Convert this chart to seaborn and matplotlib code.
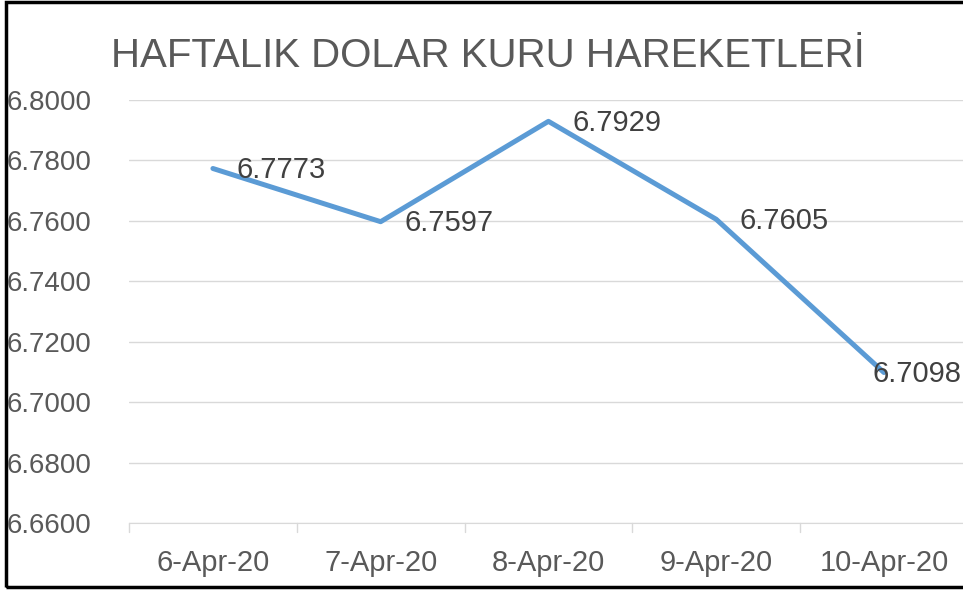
'''
Weekly USD/TRY exchange rate line chart
'''
import pandas as pd
import matplotlib.pyplot as plt
import seaborn as sns
from matplotlib.patches import Rectangle

days = ['6-Apr-20', '7-Apr-20', '8-Apr-20', '9-Apr-20', '10-Apr-20']
rates = [6.7773, 6.7597, 6.7929, 6.7605, 6.7098]
y_ticks = [6.66, 6.68, 6.70, 6.72, 6.74, 6.76, 6.78, 6.80]
title = 'HAFTALIK DOLAR KURU HAREKETLERİ'


def main():
    sns.set_style('white')
    plt.rcParams['font.family'] = ['Liberation Sans', 'DejaVu Sans']
    df = pd.DataFrame({'day': days, 'rate': rates})
    df['pos'] = range(len(df))

    fig = plt.figure(figsize=(9.63, 5.91), dpi=100)
    ax = fig.add_axes([0.134, 0.115, 0.871, 0.716])
    sns.lineplot(x='pos', y='rate', data=df, ax=ax, color='#5B9BD5',
                 linewidth=3.6, solid_capstyle='round')

    ax.set_xlim(-0.5, len(days) - 0.5)
    ax.set_ylim(y_ticks[0], y_ticks[-1])
    ax.set_yticks(y_ticks)
    ax.set_yticklabels(['%.4f' % v for v in y_ticks])
    ax.set_xticks(df['pos'])
    ax.set_xticklabels(days)
    ax.set_xlabel('')
    ax.set_ylabel('')
    ax.yaxis.grid(True, color='#D9D9D9', linewidth=1)
    for side in ['top', 'right', 'left']:
        ax.spines[side].set_visible(False)
    ax.spines['bottom'].set_color('#D9D9D9')
    ax.tick_params(axis='y', length=0, pad=27, labelsize=20,
                   labelcolor='#595959')
    ax.tick_params(axis='x', length=0, pad=19, labelsize=21,
                   labelcolor='#595959')
    for b in range(len(days)):
        ax.axvline(b - 0.5, ymin=-0.022, ymax=0, color='#D9D9D9',
                   linewidth=1, clip_on=False)

    for i, (p, v) in enumerate(zip(df['pos'], df['rate'])):
        dx = 17 if i < len(days) - 1 else -8
        ax.annotate('%.4f' % v, (p, v), xytext=(dx, -1),
                    textcoords='offset points', ha='left', va='center',
                    fontsize=21, color='#404040')

    fig.text(0.507, 0.905, title, ha='center', va='center', fontsize=29,
             color='#595959')
    fig.patches.append(Rectangle((0.006, 0.006), 1.1, 0.99, fill=False,
                                 edgecolor='black', linewidth=2.5,
                                 transform=fig.transFigure, figure=fig))
    plt.savefig('out.png', dpi=100)


if __name__ == '__main__':
    main()
